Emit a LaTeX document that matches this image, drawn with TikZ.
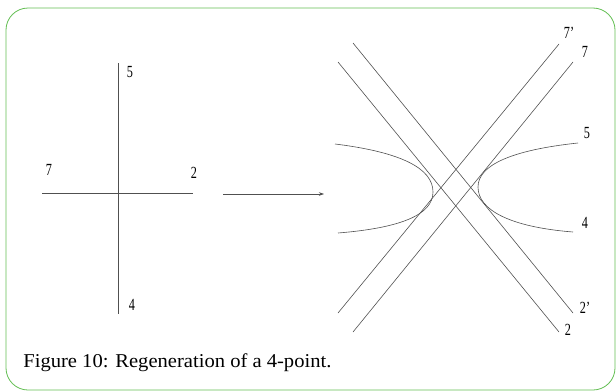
\documentclass[tikz,border=0pt]{standalone}
\usepackage{fontspec}
\setmainfont{Liberation Serif}
\usetikzlibrary{arrows.meta}
\definecolor{framegreen}{RGB}{98,190,82}
\definecolor{inkgray}{RGB}{80,80,80}
\newcommand{\narrowlbl}[1]{\scalebox{0.72}[1]{#1}}
\begin{document}
\begin{tikzpicture}[x=1pt,y=-1pt,line width=.7pt,
  strand/.style={draw=inkgray,line width=.6pt},
  lbl/.style={anchor=center,inner sep=1pt,font=\fontsize{17}{17}\selectfont}]
\path[use as bounding box] (0,0) rectangle (616,391);
\draw[framegreen,line width=.8pt,rounded corners=22pt] (6,8) rectangle (615,390);
\coordinate (vtop) at (118,63);
\coordinate (vbot) at (118,314);
\coordinate (hleft) at (42,193);
\coordinate (hright) at (193,193);
\draw[strand] (vtop) -- (vbot);
\draw[strand] (hleft) -- (hright);
\node[lbl] (l5) at (130,72) {\narrowlbl{5}};
\node[lbl] (l7) at (49,170) {\narrowlbl{7}};
\node[lbl] (l2) at (194,173) {\narrowlbl{2}};
\node[lbl] (l4) at (132,305) {\narrowlbl{4}};
\coordinate (arrs) at (223,194);
\coordinate (arre) at (324,194);
\draw[strand,-{Stealth[length=5pt,width=3.5pt]}] (arrs) -- (arre);
\coordinate (a1) at (338,62);
\coordinate (a2) at (559,332);
\coordinate (b1) at (353,43);
\coordinate (b2) at (573,313);
\coordinate (c1) at (338,313);
\coordinate (c2) at (559,44);
\coordinate (d1) at (353,332);
\coordinate (d2) at (573,62);
\draw[strand] (a1) -- (a2);
\draw[strand] (b1) -- (b2);
\draw[strand] (c1) -- (c2);
\draw[strand] (d1) -- (d2);
\draw[strand] (335,144) .. controls (400,152) and (433,168) .. (433,192) .. controls (433,215) and (400,228) .. (338,233);
\draw[strand] (578,143) .. controls (512,150) and (478,165) .. (478,187) .. controls (478,210) and (510,227) .. (573,232);
\node[lbl] (r7p) at (569,33) {\narrowlbl{7'}};
\node[lbl] (r7) at (585,52) {\narrowlbl{7}};
\node[lbl] (r5) at (587,133) {\narrowlbl{5}};
\node[lbl] (r4) at (585,223) {\narrowlbl{4}};
\node[lbl] (r2p) at (585,308) {\narrowlbl{2'}};
\node[lbl] (r2) at (568,330) {\narrowlbl{2}};
\node[anchor=base west,inner sep=0pt,font=\fontsize{19.6}{21}\selectfont] (caption) at (23,367) {\scalebox{1.05}[1]{Figure 10: Regeneration of a 4-point.}};
\end{tikzpicture}
\end{document}
